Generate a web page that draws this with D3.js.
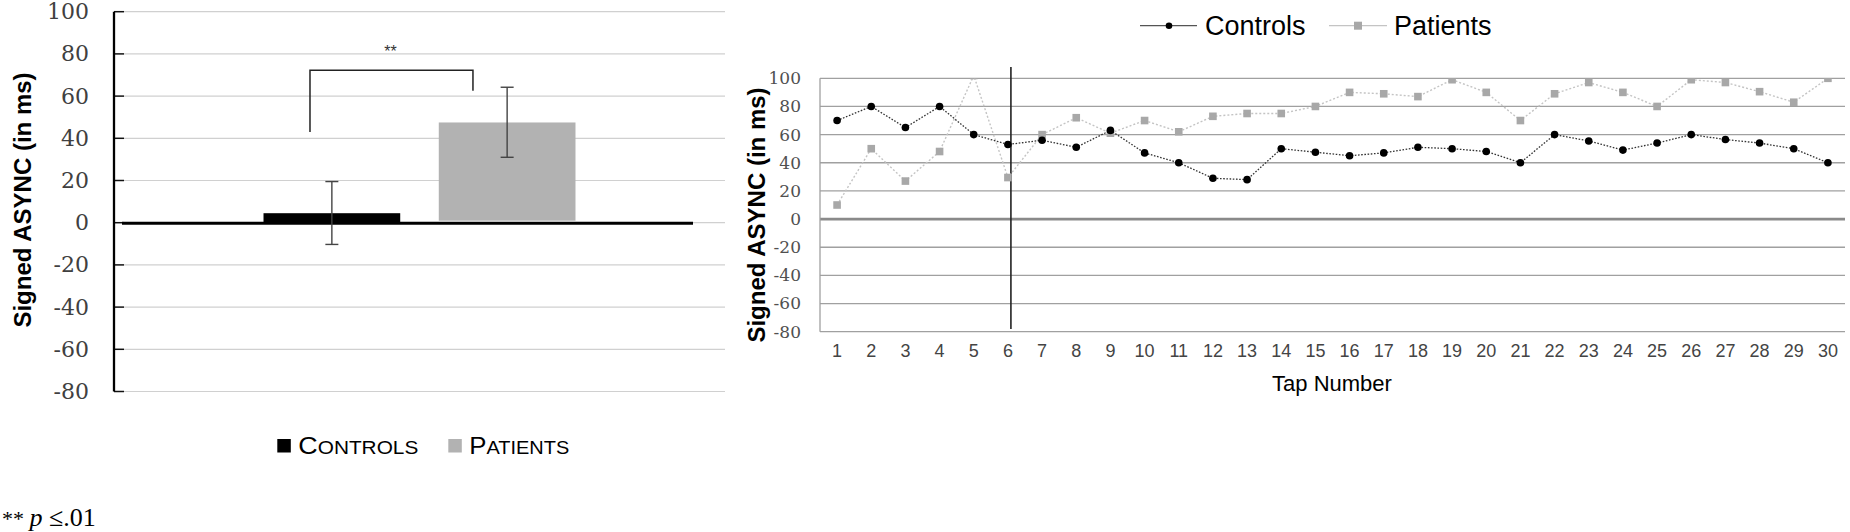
<!DOCTYPE html>
<html>
<head>
<meta charset="utf-8">
<script src="https://cdn.jsdelivr.net/npm/d3@7/dist/d3.min.js"></script>
<style>
  html, body { margin: 0; padding: 0; background: #fff; }
  svg { display: block; }
</style>
</head>
<body>
<svg id="chart" width="1850" height="532"></svg>
<script>
// ---------------- DATA ----------------
const barCategories = ["Controls", "Patients"];
const barMeans = [4.5, 47.5];
const barErrUpper = [19.5, 64.2];
const barErrLower = [-10.3, 31];
const leftYTicks = [100, 80, 60, 40, 20, 0, -20, -40, -60, -80];

const tapNumbers = [1,2,3,4,5,6,7,8,9,10,11,12,13,14,15,16,17,18,19,20,21,22,23,24,25,26,27,28,29,30];
const controlsSeries = [70,80,65,80,60,53,56,51,63,47,40,29,28,50,47.5,45,47,51,50,48,40,60,55.5,49,54,60,56.5,54,50,40];
const patientsSeries = [10,50,27,48,102,29.5,60,72,61,70,62,73,75,75,80,90,89,87,99,90,70,89,97,90,80,99,97,90.5,83,100];
const rightYTicks = [100, 80, 60, 40, 20, 0, -20, -40, -60, -80];
const markerTap = 6;

const svg = d3.select("#chart");
const SANS = "'Liberation Sans', Arial, sans-serif";
const SERIF_NUM = "'DejaVu Serif', serif";
const SERIF = "'Liberation Serif', 'Times New Roman', serif";
const plainFmt = d => String(d);

// ================= LEFT CHART =================
const L = { x0: 114, x1: 725, y0: 11.7, y1: 391.5 };
const yL = d3.scaleLinear().domain([-80, 100]).range([L.y1, L.y0]);
const xGroup = d3.scaleBand().domain(barCategories).range([L.x0, L.x1])
  .paddingInner(0.22).paddingOuter(0.853);

const gL = svg.append("g");
gL.selectAll("line.grid").data(leftYTicks).join("line")
  .attr("x1", L.x0 + 10).attr("x2", L.x1)
  .attr("y1", d => yL(d)).attr("y2", d => yL(d))
  .attr("stroke", "#d0d0d0").attr("stroke-width", 1.2);

const axL = d3.axisLeft(yL).tickValues(leftYTicks).tickFormat(plainFmt).tickSize(0).tickPadding(25);
const axLG = gL.append("g").attr("transform", `translate(${L.x0},0)`).call(axL);
axLG.select(".domain").remove();
axLG.selectAll("text").attr("font-family", SERIF_NUM).attr("font-size", 22)
  .attr("fill", "#404040");
gL.selectAll("line.tick").data(leftYTicks).join("line")
  .attr("x1", L.x0).attr("x2", L.x0 + 10)
  .attr("y1", d => yL(d)).attr("y2", d => yL(d))
  .attr("stroke", "#111").attr("stroke-width", 1.5);
gL.append("line").attr("x1", L.x0).attr("x2", L.x0)
  .attr("y1", yL(100)).attr("y2", yL(-80))
  .attr("stroke", "#000").attr("stroke-width", 2.3);

const barColors = ["#000000", "#b2b2b2"];
gL.selectAll("rect.bar").data(barCategories).join("rect")
  .attr("x", d => xGroup(d))
  .attr("width", xGroup.bandwidth())
  .attr("y", (d, i) => yL(Math.max(0, barMeans[i])))
  .attr("height", (d, i) => Math.abs(yL(barMeans[i]) - yL(0)) - (i === 1 ? 2 : 0))
  .attr("fill", (d, i) => barColors[i]);

gL.append("line")
  .attr("x1", L.x0 + 8).attr("x2", 693)
  .attr("y1", yL(0) + 0.5).attr("y2", yL(0) + 0.5)
  .attr("stroke", "#000").attr("stroke-width", 3);

barCategories.forEach((c, i) => {
  const cx = xGroup(c) + xGroup.bandwidth() / 2;
  const g = gL.append("g").attr("stroke", "#444").attr("stroke-width", 1.4);
  g.append("line").attr("x1", cx).attr("x2", cx)
    .attr("y1", yL(barErrUpper[i])).attr("y2", yL(barErrLower[i]));
  [barErrUpper[i], barErrLower[i]].forEach(v => {
    g.append("line").attr("x1", cx - 6.5).attr("x2", cx + 6.5)
      .attr("y1", yL(v)).attr("y2", yL(v));
  });
});

const bxL = xGroup("Controls") + xGroup.bandwidth() * 0.34;
const bxR = xGroup("Patients") + xGroup.bandwidth() * 0.25;
gL.append("path")
  .attr("d", `M${bxL},${yL(43)} V${yL(72.3)} H${bxR} V${yL(62.5)}`)
  .attr("fill", "none").attr("stroke", "#222").attr("stroke-width", 1.5);
gL.append("text").attr("x", (bxL + bxR) / 2 - 1).attr("y", yL(78.5))
  .attr("text-anchor", "middle").attr("font-family", SANS)
  .attr("font-size", 16).attr("fill", "#333").text("**");

gL.append("text")
  .attr("transform", `translate(31,200) rotate(-90)`)
  .attr("text-anchor", "middle").attr("font-family", SANS)
  .attr("font-weight", "bold").attr("font-size", 24).attr("fill", "#000")
  .text("Signed ASYNC (in ms)");

const legL = [
  { x: 277.3, color: "#000", big: "C", small: "ONTROLS", w: 120 },
  { x: 448.3, color: "#b2b2b2", big: "P", small: "ATIENTS", w: 100 }
];
legL.forEach(d => {
  gL.append("rect").attr("x", d.x).attr("y", 439).attr("width", 13.5).attr("height", 13.5)
    .attr("fill", d.color);
  const t = gL.append("text").attr("x", d.x + 21).attr("y", 454)
    .attr("font-family", SANS).attr("fill", "#000")
    .attr("textLength", d.w).attr("lengthAdjust", "spacingAndGlyphs");
  t.append("tspan").attr("font-size", 24).text(d.big);
  t.append("tspan").attr("font-size", 18.6).text(d.small);
});

const fn = svg.append("text").attr("x", 2).attr("y", 526)
  .attr("font-family", SERIF).attr("font-size", 26).attr("fill", "#000");
fn.append("tspan").attr("font-size", 22).text("** ");
fn.append("tspan").attr("font-style", "italic").text("p");
fn.append("tspan").text(" \u2264.01");

// ================= RIGHT CHART =================
const R = { x0: 820, x1: 1845, y0: 78.3, y1: 331.7 };
const yR = d3.scaleLinear().domain([-80, 100]).range([R.y1, R.y0]);
const xR = d3.scaleBand().domain(tapNumbers).range([R.x0, R.x1]);
const cxR = d => xR(d) + xR.bandwidth() / 2;

const gR = svg.append("g");
gR.append("defs").append("clipPath").attr("id", "plotclip")
  .append("rect").attr("x", R.x0).attr("y", R.y0).attr("width", R.x1 - R.x0).attr("height", R.y1 - R.y0);

gR.selectAll("line.grid").data(rightYTicks).join("line")
  .attr("x1", R.x0).attr("x2", R.x1)
  .attr("y1", d => yR(d)).attr("y2", d => yR(d))
  .attr("stroke", d => d === 0 ? "#8a8a8a" : "#a0a0a0")
  .attr("stroke-width", d => d === 0 ? 2.6 : 1.3);
gR.append("line").attr("x1", R.x0).attr("x2", R.x0)
  .attr("y1", yR(100)).attr("y2", yR(-80))
  .attr("stroke", "#a0a0a0").attr("stroke-width", 1.3);

const axRY = d3.axisLeft(yR).tickValues(rightYTicks).tickFormat(plainFmt).tickSize(0).tickPadding(19);
const axRYG = gR.append("g").attr("transform", `translate(${R.x0},0)`).call(axRY);
axRYG.select(".domain").remove();
axRYG.selectAll("text").attr("font-family", SERIF_NUM).attr("font-size", 17)
  .attr("fill", "#505050");

const axRX = d3.axisBottom(xR).tickSize(0).tickPadding(13);
const axRXG = gR.append("g").attr("transform", `translate(0,${R.y1})`).call(axRX);
axRXG.select(".domain").remove();
axRXG.selectAll("text").attr("font-family", SANS).attr("font-size", 18)
  .attr("fill", "#444");

gR.append("line")
  .attr("x1", cxR(markerTap) + 3).attr("x2", cxR(markerTap) + 3)
  .attr("y1", yR(108)).attr("y2", yR(-78))
  .attr("stroke", "#222").attr("stroke-width", 1.6);

const lineGen = vals => d3.line().x((d, i) => cxR(tapNumbers[i])).y(d => yR(d))(vals);
const plot = gR.append("g").attr("clip-path", "url(#plotclip)");
plot.append("path").attr("d", lineGen(patientsSeries))
  .attr("fill", "none").attr("stroke", "#c4c4c4").attr("stroke-width", 1.4)
  .attr("stroke-dasharray", "2,2");
plot.selectAll("rect.pm").data(patientsSeries).join("rect")
  .attr("x", (d, i) => cxR(tapNumbers[i]) - 3.8)
  .attr("y", d => yR(d) - 3.8)
  .attr("width", 7.6).attr("height", 7.6).attr("fill", "#a8a8a8");
plot.append("path").attr("d", lineGen(controlsSeries))
  .attr("fill", "none").attr("stroke", "#333").attr("stroke-width", 1.3)
  .attr("stroke-dasharray", "1.6,1.6");
plot.selectAll("circle.cm").data(controlsSeries).join("circle")
  .attr("cx", (d, i) => cxR(tapNumbers[i]))
  .attr("cy", d => yR(d)).attr("r", 3.8).attr("fill", "#000");

gR.append("text")
  .attr("transform", `translate(765,215) rotate(-90)`)
  .attr("text-anchor", "middle").attr("font-family", SANS)
  .attr("font-weight", "bold").attr("font-size", 24).attr("fill", "#000")
  .text("Signed ASYNC (in ms)");
gR.append("text").attr("x", 1332).attr("y", 391)
  .attr("text-anchor", "middle").attr("font-family", SANS)
  .attr("font-size", 22).attr("fill", "#000").text("Tap Number");

const legY = 25.7;
gR.append("line").attr("x1", 1140).attr("x2", 1197).attr("y1", legY).attr("y2", legY)
  .attr("stroke", "#555").attr("stroke-width", 1.2);
gR.append("circle").attr("cx", 1169).attr("cy", legY).attr("r", 3.3).attr("fill", "#000");
gR.append("text").attr("x", 1205).attr("y", 34.5).attr("font-family", SANS)
  .attr("font-size", 27).attr("fill", "#000").text("Controls");
gR.append("line").attr("x1", 1329).attr("x2", 1387).attr("y1", legY).attr("y2", legY)
  .attr("stroke", "#c4c4c4").attr("stroke-width", 1.2);
gR.append("rect").attr("x", 1354).attr("y", legY - 4).attr("width", 8).attr("height", 8)
  .attr("fill", "#a8a8a8");
gR.append("text").attr("x", 1394).attr("y", 34.5).attr("font-family", SANS)
  .attr("font-size", 27).attr("fill", "#000").text("Patients");
</script>
</body>
</html>
